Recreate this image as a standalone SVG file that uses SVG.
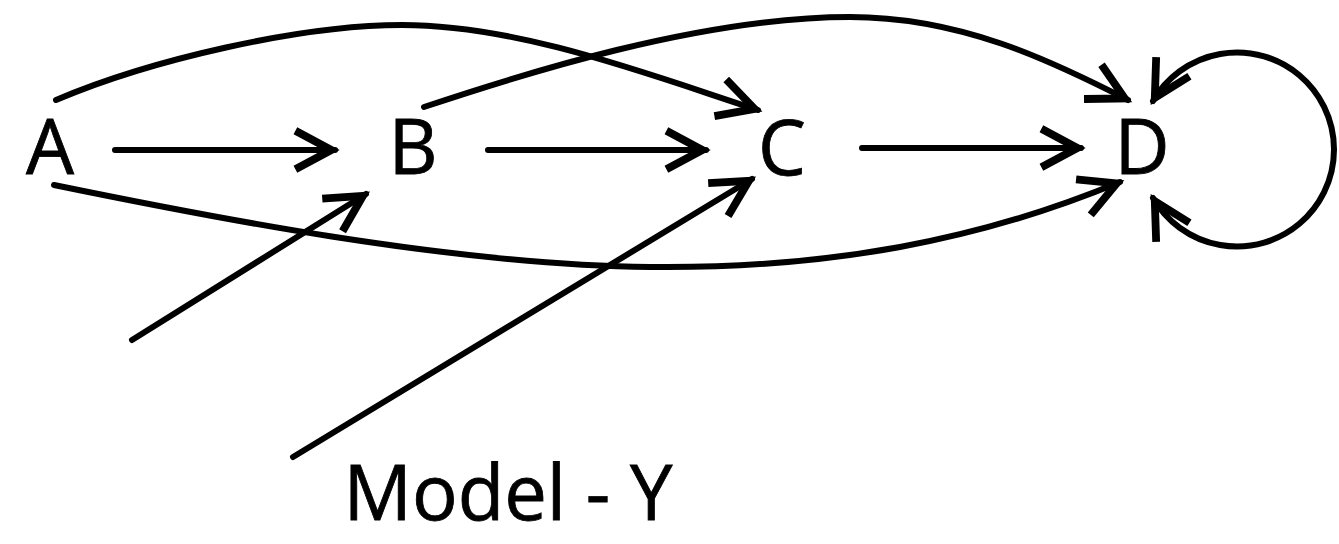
<svg xmlns="http://www.w3.org/2000/svg" width="1339" height="544" viewBox="0 0 1339 544">
<style>
.lbl{font-family:"Open Sans","Liberation Sans",sans-serif;font-size:76px;fill:#000;text-anchor:middle;stroke:#000;stroke-width:0.8}
.e{fill:none;stroke:#000;stroke-width:6;stroke-linecap:round}
</style>
<defs>
<marker id="ah" markerUnits="userSpaceOnUse" markerWidth="60" markerHeight="60" viewBox="-40 -25 50 50" refX="0" refY="0" orient="auto-start-reverse" overflow="visible">
<path d="M-33,-16 L-3,0 L-33,16" fill="none" stroke="#000" stroke-width="6.5" stroke-linejoin="miter" stroke-linecap="butt"/>
</marker>
</defs>
<rect width="1339" height="544" fill="#fff"/>
<g id="connectors">
<path class="e" d="M115,150 L335,150" marker-end="url(#ah)"/>
<path class="e" d="M488,150 L706,150" marker-end="url(#ah)"/>
<path class="e" d="M862,148 L1081,148" marker-end="url(#ah)"/>
<path class="e" d="M56,100 C150,60 300,25 402,25 C520,25 650,75 758,110" marker-end="url(#ah)"/>
<path class="e" d="M424,107 C520,75 700,17 850,17 C960,17 1050,60 1128,100" marker-end="url(#ah)"/>
<path class="e" d="M54,185 C200,215 450,265 650,267 C830,269 980,240 1120,182" marker-end="url(#ah)"/>
<path class="e" d="M132,340 L366,194" marker-end="url(#ah)"/>
<path class="e" d="M293,457 L752,179" marker-end="url(#ah)"/>
<path class="e" d="M1153,198 A97,97 0 1 0 1153,101" marker-start="url(#ah)" marker-end="url(#ah)"/>
</g>
<g id="node-A"><text class="lbl" x="50" y="174">A</text></g>
<g id="node-B"><text class="lbl" x="413" y="174">B</text></g>
<g id="node-C"><text class="lbl" x="782" y="175">C</text></g>
<g id="node-D"><text class="lbl" x="1142" y="174">D</text></g>
<g id="label-model"><text class="lbl" x="508" y="520">Model - Y</text></g>
</svg>
